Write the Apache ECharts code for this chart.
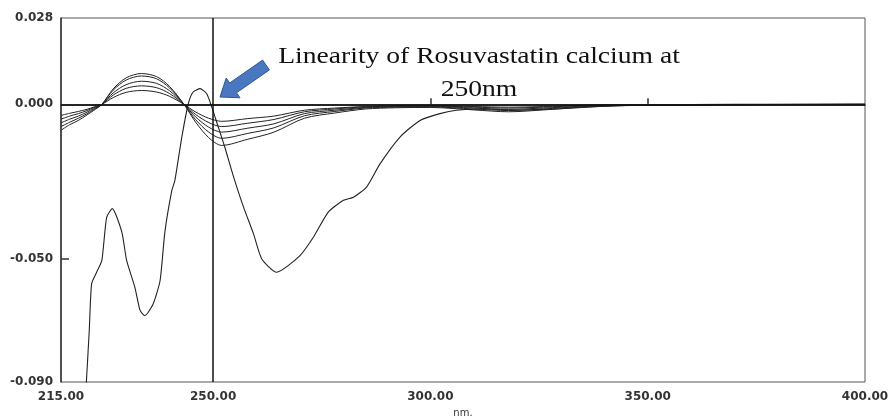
<!DOCTYPE html>
<html>
<head>
<meta charset="utf-8">
<script src="https://cdn.jsdelivr.net/npm/echarts@6/dist/echarts.min.js"></script>
<style>
  html, body { margin: 0; padding: 0; background: #fff; }
  #container { width: 888px; height: 416px; }
</style>
</head>
<body>
<div id="container"></div>
<script>
// wavelengths (nm) shared by the five linearity spectra
var wlSmall = [215, 217, 219, 221, 222.5, 224.4, 227, 230, 233.5, 237, 240, 243.3, 246, 249, 252, 258, 264, 271, 278, 285, 292, 300, 310, 318, 326, 335, 345, 360, 400];
var specA = [-0.0084,-0.0066,-0.0052,-0.0034,-0.0020,0.0000,0.0050,0.0086,0.0100,0.0090,0.0058,0.0000,-0.0058,-0.0108,-0.0133,-0.0113,-0.0090,-0.0045,-0.0028,-0.0015,-0.0011,-0.0010,-0.0018,-0.0024,-0.0018,-0.0009,-0.0004,-0.0002,0.0000];
var specB = [-0.0072,-0.0058,-0.0045,-0.0030,-0.0017,0.0000,0.0046,0.0079,0.0092,0.0083,0.0053,0.0000,-0.0050,-0.0090,-0.0110,-0.0094,-0.0076,-0.0037,-0.0023,-0.0012,-0.0009,-0.0008,-0.0015,-0.0020,-0.0015,-0.0007,-0.0003,-0.0001,0.0000];
var specC = [-0.0060,-0.0048,-0.0038,-0.0025,-0.0014,0.0000,0.0037,0.0064,0.0075,0.0068,0.0044,0.0000,-0.0041,-0.0074,-0.0090,-0.0077,-0.0063,-0.0030,-0.0019,-0.0010,-0.0007,-0.0006,-0.0012,-0.0016,-0.0012,-0.0006,-0.0003,-0.0001,0.0000];
var specD = [-0.0048,-0.0038,-0.0030,-0.0020,-0.0011,0.0000,0.0030,0.0052,0.0060,0.0054,0.0035,0.0000,-0.0033,-0.0059,-0.0072,-0.0061,-0.0049,-0.0024,-0.0015,-0.0008,-0.0006,-0.0005,-0.0009,-0.0012,-0.0009,-0.0004,-0.0002,-0.0001,0.0000];
var specE = [-0.0036,-0.0029,-0.0023,-0.0016,-0.0009,0.0000,0.0022,0.0039,0.0045,0.0040,0.0026,0.0000,-0.0025,-0.0045,-0.0055,-0.0046,-0.0038,-0.0019,-0.0012,-0.0007,-0.0005,-0.0004,-0.0007,-0.0009,-0.0007,-0.0003,-0.0002,-0.0001,0.0000];

// the large separate spectrum
var wlBig = [220.6, 221.5, 222.05, 223.2, 224.4, 225.5, 226.8, 229.0, 230.1, 232.0, 233.2, 234.3, 236.2, 237.8, 238.9, 240.5, 241.2, 242.8, 244.3, 245.4, 247.0, 248.5, 249.7, 251.2, 252.7, 254.6, 257.0, 259.3, 261.2, 264.6, 270.0, 273.1, 276.5, 280.0, 282.3, 285.3, 288.4, 293.0, 297.6, 302.2, 306.0, 312, 320, 330, 340, 350, 370, 400];
var specBig = [-0.096, -0.0733, -0.0581, -0.0544, -0.0506, -0.0366, -0.0338, -0.0414, -0.0506, -0.0593, -0.0668, -0.0685, -0.0647, -0.0571, -0.0414, -0.0279, -0.0247, -0.0106, 0.0002, 0.0040, 0.0051, 0.0035, -0.0009, -0.0074, -0.0139, -0.0230, -0.0333, -0.0420, -0.0501, -0.0544, -0.0490, -0.0430, -0.0349, -0.0311, -0.0301, -0.0268, -0.0193, -0.0106, -0.0052, -0.0030, -0.0019, -0.0015, -0.0018, -0.0014, -0.0006, -0.0002, 0.0, 0.0];

var xLabels = [215, 250, 300, 350, 400];
var xTicks = [300, 350];
var yLabels = [-0.09, -0.05, 0, 0.028];
var yTicks = [-0.05];

function pairs(xs, ys) {
    var out = [];
    for (var i = 0; i < xs.length; i++) {
        out.push([xs[i], ys[i]]);
    }
    return out;
}

var chart = echarts.init(document.getElementById('container'));

var smallSeries = [specA, specB, specC, specD, specE].map(function (s) {
    return {
        type: 'line',
        data: pairs(wlSmall, s),
        smooth: 0.3,
        symbol: 'none',
        silent: true,
        lineStyle: { color: '#222', width: 1 }
    };
});

var labelFont = { color: '#333', fontSize: 12, fontWeight: 'bold', fontFamily: 'DejaVu Sans' };

var option = {
    animation: false,
    grid: {
        left: 61, top: 18, width: 804, height: 364,
        outerBoundsMode: 'none',
        containLabel: false,
        show: true, borderColor: '#555', borderWidth: 1
    },
    xAxis: {
        type: 'value',
        min: 215, max: 400,
        name: 'nm.',
        nameLocation: 'middle',
        nameGap: 26,
        nameTextStyle: { color: '#333', fontSize: 10, fontFamily: 'DejaVu Sans' },
        axisLine: { show: true, lineStyle: { color: '#333', width: 1.5 } },
        axisTick: { show: true, inside: true, length: 6, customValues: xTicks, lineStyle: { color: '#333', width: 1.5 } },
        axisLabel: Object.assign({
            margin: 9,
            customValues: xLabels,
            formatter: function (v) { return v.toFixed(2); }
        }, labelFont),
        splitLine: { show: false }
    },
    yAxis: {
        type: 'value',
        min: -0.09, max: 0.028,
        axisLine: { show: true, lineStyle: { color: '#333', width: 1.5 } },
        axisTick: { show: true, inside: true, length: 8, customValues: yTicks, lineStyle: { color: '#333', width: 1.5 } },
        axisLabel: Object.assign({
            margin: 8,
            customValues: yLabels,
            formatter: function (v) { return v.toFixed(3); }
        }, labelFont),
        splitLine: { show: false }
    },
    series: smallSeries.concat([
        {
            type: 'line',
            data: pairs(wlBig, specBig),
            smooth: 0.2,
            symbol: 'none',
            silent: true,
            lineStyle: { color: '#222', width: 1.1 },
            markLine: {
                silent: true,
                symbol: 'none',
                label: { show: false },
                lineStyle: { color: '#111', width: 1.5, type: 'solid' },
                data: [{ xAxis: 250 }, { yAxis: 0 }]
            }
        }
    ]),
    graphic: [
        {
            type: 'polygon',
            shape: {
                points: [[262.6, 60.1], [229.7, 83.0], [226.2, 78.0], [220, 97], [240.0, 97.8], [236.5, 92.8], [269.4, 69.9]]
            },
            style: { fill: '#4a78c0', stroke: '#2f5590', lineWidth: 1 }
        },
        {
            type: 'text',
            x: 479, y: 45,
            scaleX: 1.2,
            style: {
                text: 'Linearity of Rosuvastatin calcium at',
                x: 0, y: 0,
                textAlign: 'center',
                fontFamily: 'Liberation Serif',
                fontSize: 23,
                fill: '#111'
            }
        },
        {
            type: 'text',
            x: 479, y: 78,
            scaleX: 1.2,
            style: {
                text: '250nm',
                x: 0, y: 0,
                textAlign: 'center',
                fontFamily: 'Liberation Serif',
                fontSize: 23,
                fill: '#111'
            }
        }
    ]
};

chart.setOption(option);
</script>
</body>
</html>
